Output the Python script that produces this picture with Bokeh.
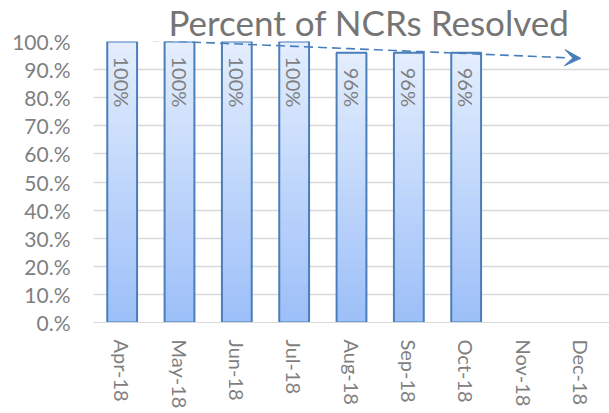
import math
import numpy as np
from bokeh.plotting import figure
from bokeh.models import Range1d, FixedTicker, Arrow, VeeHead, ColumnDataSource
from bokeh.core.properties import value
from bokeh.embed import file_html
from bokeh.resources import INLINE

months = ["Apr-18", "May-18", "Jun-18", "Jul-18", "Aug-18", "Sep-18", "Oct-18", "Nov-18", "Dec-18"]
resolved = [1.00, 1.00, 1.00, 1.00, 0.96, 0.96, 0.96]
bar_labels = ["100%", "100%", "100%", "100%", "96%", "96%", "96%"]
y_ticks = [0.0, 0.1, 0.2, 0.3, 0.4, 0.5, 0.6, 0.7, 0.8, 0.9, 1.0]
y_tick_labels = ["0.%", "10.%", "20.%", "30.%", "40.%", "50.%", "60.%", "70.%", "80.%", "90.%", "100.%"]

FONT = "Lato"
TXT = "#7f7f7f"
BLUE = "#4a7ebb"

xs = list(range(1, len(months) + 1))
xd = xs[:len(resolved)]

p = figure(output_backend="svg", toolbar_location=None,
           x_range=Range1d(0.5, len(months) + 0.5), y_range=Range1d(0, 1.0),
           frame_width=516, frame_height=281,
           min_border_left=93, min_border_right=0, min_border_top=34, min_border_bottom=70,
           title="Percent of NCRs Resolved")
p.outline_line_color = None
p.background_fill_color = "white"
p.border_fill_color = "white"

p.title.text_font = FONT
p.title.text_font_size = "35px"
p.title.text_font_style = "normal"
p.title.text_color = "#757575"
p.title.align = "left"
p.title.offset = 75
p.title.standoff = -3

# gradient bars as stacked slices
n = 30
top_rgb = np.array([0xe4, 0xee, 0xfe])
bot_rgb = np.array([0x9c, 0xbf, 0xf8])
for x, v in zip(xd, resolved):
    edges = np.linspace(0, v, n + 1)
    tops = np.minimum(edges[1:] + 0.006, v)
    cols = []
    for i in range(n):
        t = (i + 0.5) / n
        c = bot_rgb + (top_rgb - bot_rgb) * t
        cols.append("#%02x%02x%02x" % tuple(int(round(k)) for k in c))
    p.vbar(x=[x] * n, bottom=edges[:-1], top=tops, width=0.52,
           fill_color=cols, line_color=None)
p.vbar(x=xd, top=resolved, width=0.52, fill_color=None, line_color=BLUE, line_width=2)

# bar labels
src = ColumnDataSource(dict(x=xd, y=resolved, t=bar_labels))
p.text(x="x", y="y", text="t", source=src, angle=-math.pi / 2,
       text_align="left", text_baseline="middle", y_offset=15,
       text_font=value(FONT), text_font_size="20px", text_color=TXT)

# linear trendline with forecast to last category
m, b = np.polyfit(xd, resolved, 1)
tx = np.linspace(1, xs[-1] - 0.25, 50)
p.line(tx, m * tx + b, line_color=BLUE, line_width=1.6, line_dash="9 5")
x_end = xs[-1]
p.add_layout(Arrow(end=VeeHead(size=16, fill_color=BLUE, line_color=BLUE),
                   x_start=x_end - 0.3, y_start=m * (x_end - 0.3) + b,
                   x_end=x_end, y_end=m * x_end + b,
                   line_alpha=0))

# axes
p.xaxis.ticker = FixedTicker(ticks=xs)
p.xaxis.major_label_overrides = {x: lab for x, lab in zip(xs, months)}
p.xaxis.major_label_orientation = -math.pi / 2
p.xaxis.major_label_text_font = FONT
p.xaxis.major_label_text_font_size = "20px"
p.xaxis.major_label_text_color = TXT
p.xaxis.major_label_standoff = 11
p.xaxis.major_tick_line_color = None
p.xaxis.minor_tick_line_color = None
p.xaxis.axis_line_color = "#d9d9d9"
p.xaxis.axis_line_width = 1

p.yaxis.ticker = FixedTicker(ticks=y_ticks)
p.yaxis.major_label_overrides = {t: lab for t, lab in zip(y_ticks, y_tick_labels)}
p.yaxis.major_label_text_font = FONT
p.yaxis.major_label_text_font_size = "21px"
p.yaxis.major_label_text_color = TXT
p.yaxis.major_label_standoff = 17
p.yaxis.major_tick_line_color = None
p.yaxis.minor_tick_line_color = None
p.yaxis.axis_line_color = None

p.xgrid.grid_line_color = None
p.ygrid.ticker = FixedTicker(ticks=y_ticks)
p.ygrid.grid_line_color = "#d9d9d9"
p.ygrid.grid_line_width = 1.5

open("out.html", "w").write(file_html(p, INLINE))
